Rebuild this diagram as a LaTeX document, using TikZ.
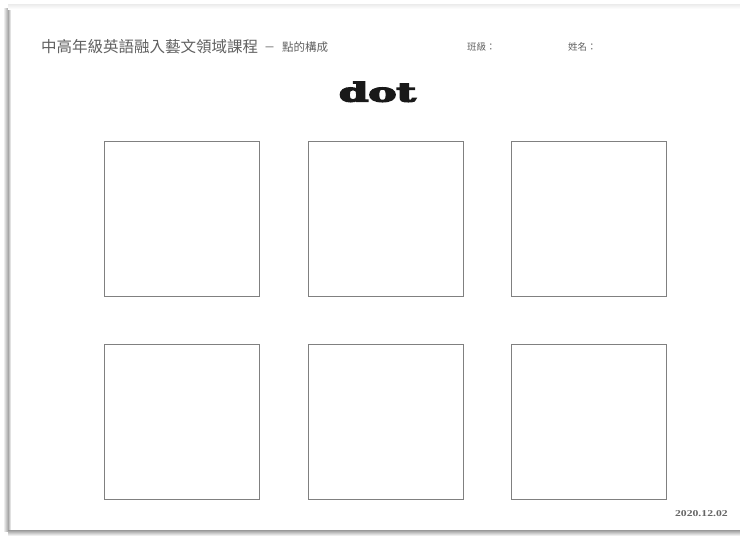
\documentclass[tikz,border=0pt]{standalone}
\usepackage{fontspec}
\newfontfamily\cjk{Noto Sans CJK TC}
\newfontfamily\dotfont[FakeBold=5]{DejaVu Serif Bold}
\newfontfamily\datefont{Liberation Serif}
\begin{document}
\begin{tikzpicture}[x=1pt,y=-1pt,
  frame/.style={draw=black!50, line width=1.2pt, minimum width=155pt, minimum height=155pt, inner sep=0pt, anchor=north west},
  cjktxt/.style={font=\cjk, text=black!62, inner sep=0pt, anchor=base west}]
\useasboundingbox (0,0) rectangle (740,536);
\fill[white] (0,0) rectangle (740,536);
% paper shadows
\shade[left color=white, right color=black!35] (3,8) rectangle (8,531);
\shade[left color=black!35, right color=white] (8,8) rectangle (11,531);
\shade[top color=black!8, bottom color=white] (8,4) rectangle (740,9);
\shade[top color=black!40, bottom color=white] (8,530) rectangle (740,536);
\fill[white] (11,9) rectangle (740,530);
% header texts
\node[cjktxt, font=\cjk\fontsize{15.5}{16}\selectfont] (title) at (41,52) {中高年級英語融入藝文領域課程};
\node[cjktxt, font=\cjk\fontsize{11}{12}\selectfont] (dash) at (264,51) {－};
\node[cjktxt, font=\cjk\fontsize{11.5}{12}\selectfont] (sub) at (282,51) {點的構成};
\node[cjktxt, font=\cjk\fontsize{9.5}{10}\selectfont] (cls) at (467,50) {班級：};
\node[cjktxt, font=\cjk\fontsize{9.5}{10}\selectfont] (nm) at (568,50) {姓名：};
\node[inner sep=0pt, anchor=base, text=black!90, xscale=1.62] (dot) at (377.5,101.5) {\dotfont\fontsize{26}{27}\selectfont dot};
% boxes
\node[frame] (b1) at (104,141) {};
\node[frame] (b2) at (308,141) {};
\node[frame] (b3) at (511,141) {};
\node[frame] (b4) at (104,344) {};
\node[frame] (b5) at (308,344) {};
\node[frame] (b6) at (511,344) {};
% date
\node[inner sep=0pt, anchor=base east, text=black!60, xscale=1.3] (date) at (728,516) {\datefont\bfseries\fontsize{9}{10}\selectfont 2020.12.02};
\end{tikzpicture}
\end{document}
